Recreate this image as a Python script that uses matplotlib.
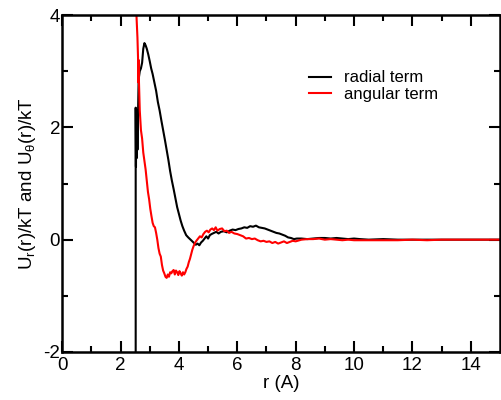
import matplotlib.pyplot as plt

plt.rcParams['font.family'] = ['Liberation Sans', 'DejaVu Sans']
plt.rcParams['mathtext.default'] = 'regular'
plt.rcParams['axes.unicode_minus'] = False

# radial term (black)
r_rad = [2.52, 2.52, 2.53, 2.54, 2.55, 2.56, 2.58, 2.62, 2.66, 2.70, 2.74, 2.78, 2.82, 2.86,
         2.90, 2.95, 3.00, 3.05, 3.10, 3.16, 3.22, 3.28, 3.34, 3.40, 3.46, 3.52, 3.58, 3.64,
         3.70, 3.76, 3.82, 3.88, 3.94, 4.00, 4.06, 4.12, 4.18, 4.25, 4.32, 4.40, 4.46, 4.52,
         4.58, 4.64, 4.70, 4.76, 4.82, 4.88, 4.94, 5.00, 5.06, 5.12, 5.20, 5.28, 5.36, 5.44,
         5.54, 5.64, 5.74, 5.84, 5.94, 6.04, 6.14, 6.24, 6.34, 6.44, 6.54, 6.64, 6.74, 6.84,
         6.94, 7.04, 7.14, 7.24, 7.34, 7.44, 7.54, 7.64, 7.74, 7.84, 7.94, 8.04, 8.20, 8.40,
         8.60, 8.80, 9.00, 9.20, 9.40, 9.60, 9.80, 10.0, 10.2, 10.5, 11.0, 11.5, 12.0, 12.5,
         13.0, 13.5, 14.0, 14.5, 15.0]
u_rad = [-2.5, 2.35, 1.30, 2.25, 1.45, 2.30, 1.60, 2.85, 3.00, 3.05, 3.15, 3.40, 3.50, 3.46,
         3.40, 3.30, 3.18, 3.05, 2.95, 2.80, 2.65, 2.45, 2.30, 2.12, 1.95, 1.78, 1.60, 1.42,
         1.22, 1.05, 0.90, 0.74, 0.58, 0.46, 0.34, 0.24, 0.16, 0.08, 0.04, 0.00, -0.03, -0.06,
         -0.09, -0.07, -0.10, -0.05, -0.02, 0.02, 0.06, 0.02, 0.08, 0.10, 0.12, 0.14, 0.11, 0.14,
         0.15, 0.13, 0.16, 0.18, 0.17, 0.19, 0.20, 0.22, 0.21, 0.24, 0.23, 0.25, 0.22, 0.21,
         0.20, 0.18, 0.16, 0.14, 0.12, 0.11, 0.09, 0.07, 0.04, 0.03, 0.01, 0.02, 0.02, 0.01,
         0.02, 0.03, 0.03, 0.02, 0.03, 0.02, 0.01, 0.02, 0.01, 0.00, 0.01, 0.00, 0.00, 0.00,
         0.00, 0.00, 0.00, 0.00, 0.00]

# angular term (red)
r_ang = [2.53, 2.55, 2.58, 2.60, 2.61, 2.62, 2.63, 2.66, 2.70, 2.74, 2.78, 2.82, 2.86, 2.90,
         2.94, 2.98, 3.02, 3.06, 3.10, 3.14, 3.18, 3.22, 3.26, 3.30, 3.34, 3.38, 3.42, 3.46,
         3.50, 3.54, 3.58, 3.62, 3.66, 3.70, 3.74, 3.78, 3.82, 3.86, 3.90, 3.94, 3.98, 4.02,
         4.06, 4.10, 4.14, 4.18, 4.22, 4.26, 4.30, 4.34, 4.38, 4.42, 4.46, 4.50, 4.55, 4.60,
         4.66, 4.72, 4.78, 4.84, 4.90, 4.96, 5.02, 5.08, 5.14, 5.20, 5.26, 5.32, 5.40, 5.48,
         5.56, 5.64, 5.72, 5.80, 5.90, 6.00, 6.10, 6.20, 6.30, 6.40, 6.50, 6.60, 6.70, 6.80,
         6.90, 7.00, 7.10, 7.20, 7.30, 7.40, 7.50, 7.60, 7.70, 7.80, 7.90, 8.00, 8.20, 8.40,
         8.60, 8.80, 9.00, 9.20, 9.40, 9.60, 9.80, 10.0, 10.5, 11.0, 11.5, 12.0, 12.5, 13.0,
         13.5, 14.0, 14.5, 15.0]
u_ang = [4.50, 3.95, 3.60, 3.25, 2.80, 3.20, 2.85, 2.30, 1.95, 1.80, 1.55, 1.40, 1.25, 1.05,
         0.85, 0.72, 0.55, 0.42, 0.30, 0.24, 0.22, 0.12, 0.00, -0.15, -0.25, -0.30, -0.45, -0.55,
         -0.60, -0.66, -0.68, -0.62, -0.66, -0.58, -0.60, -0.56, -0.54, -0.62, -0.55, -0.58, -0.63, -0.56,
         -0.60, -0.64, -0.58, -0.62, -0.58, -0.52, -0.48, -0.40, -0.34, -0.26, -0.18, -0.12, -0.06, -0.02,
         0.02, 0.06, 0.04, 0.10, 0.14, 0.16, 0.13, 0.18, 0.20, 0.17, 0.22, 0.16, 0.19, 0.20,
         0.15, 0.16, 0.12, 0.14, 0.11, 0.10, 0.08, 0.06, 0.02, 0.03, 0.01, 0.02, -0.01, -0.03,
         -0.02, -0.04, -0.03, -0.06, -0.04, -0.07, -0.05, -0.03, -0.06, -0.04, -0.02, -0.03, 0.00, 0.01,
         0.01, 0.02, 0.00, 0.01, 0.00, -0.01, 0.00, -0.01, -0.01, -0.01, -0.01, 0.00, -0.01, 0.00,
         0.00, 0.00, 0.00, 0.00]

fig = plt.figure(figsize=(5.01, 4.0), dpi=100)
ax = fig.add_axes([0.124, 0.12, 0.874, 0.8425])

ax.plot(r_rad, u_rad, color='black', lw=1.5, label='radial term')
ax.plot(r_ang, u_ang, color='red', lw=1.5, label='angular term')

ax.set_xlim(0, 15)
ax.set_ylim(-2, 4)
ax.set_xticks(range(0, 15, 2))
ax.set_xticks(range(1, 15, 2), minor=True)
ax.set_yticks([-2, 0, 2, 4])
ax.set_yticks([-1, 1, 3], minor=True)
ax.tick_params(which='both', direction='in', top=True, right=True, width=1.5, labelsize=13.5)
ax.tick_params(which='major', length=8)
ax.tick_params(which='minor', length=4)
ax.tick_params(axis='y', pad=1.5)
for s in ax.spines.values():
    s.set_linewidth(1.8)

ax.set_xlabel('r (A)', fontsize=13.5, labelpad=1)
ax.set_ylabel(r'U$_r$(r)/kT and U$_\theta$(r)/kT', fontsize=13.5, labelpad=4)

ax.legend(loc='upper left', bbox_to_anchor=(0.53, 0.88), frameon=False, fontsize=12,
          handlelength=1.3, handletextpad=0.8, labelspacing=0.1)

fig.savefig('out.png', dpi=100)
